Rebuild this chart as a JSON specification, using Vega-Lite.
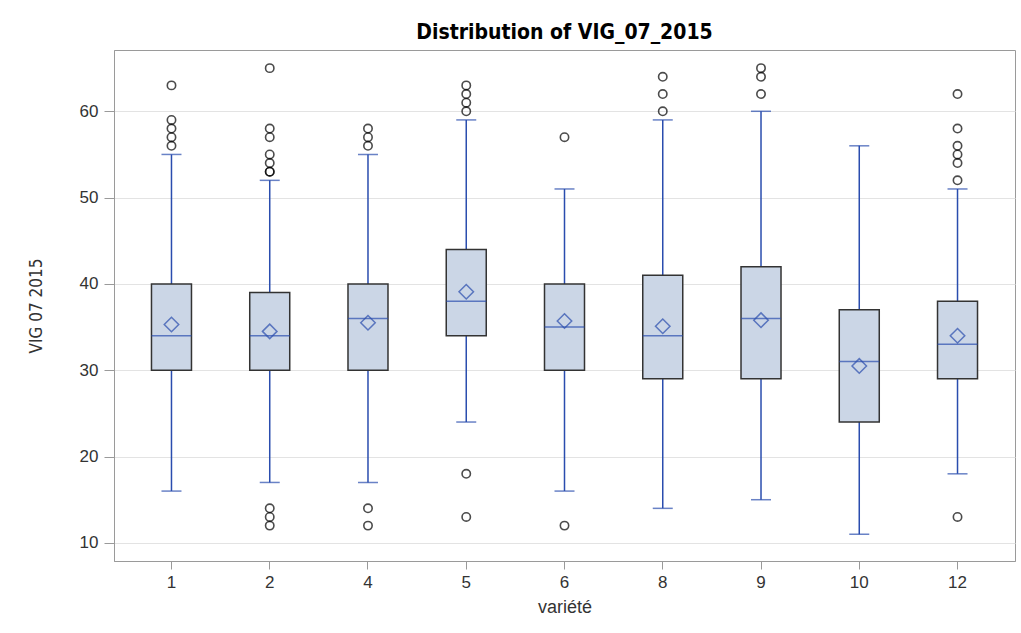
{
  "$schema": "https://vega.github.io/schema/vega-lite/v6.json",
  "width": 901,
  "height": 511,
  "autosize": {"type": "none"},
  "padding": {"left": 114, "top": 50, "right": 6, "bottom": 72},
  "background": "white",
  "title": {
    "text": "Distribution of VIG_07_2015",
    "font": "DejaVu Sans Condensed, Liberation Sans",
    "fontSize": 21,
    "fontWeight": "bold",
    "color": "#000000",
    "anchor": "middle",
    "offset": 7
  },
  "config": {
    "view": {"stroke": "#9a9a9a", "strokeWidth": 1},
    "axis": {
      "labelFont": "Liberation Sans",
      "labelFontSize": 17,
      "labelColor": "#333333",
      "titleFontWeight": "normal",
      "titleColor": "#333333",
      "domainColor": "#9a9a9a",
      "tickColor": "#9a9a9a",
      "gridColor": "#e3e3e3"
    }
  },
  "datasets": {
    "stats": [
      {"var": "1", "lo": 16, "q1": 30, "med": 34, "q3": 40, "hi": 55, "mean": 35.3},
      {"var": "2", "lo": 17, "q1": 30, "med": 34, "q3": 39, "hi": 52, "mean": 34.5},
      {"var": "4", "lo": 17, "q1": 30, "med": 36, "q3": 40, "hi": 55, "mean": 35.5},
      {"var": "5", "lo": 24, "q1": 34, "med": 38, "q3": 44, "hi": 59, "mean": 39.1},
      {"var": "6", "lo": 16, "q1": 30, "med": 35, "q3": 40, "hi": 51, "mean": 35.7},
      {"var": "8", "lo": 14, "q1": 29, "med": 34, "q3": 41, "hi": 59, "mean": 35.1},
      {"var": "9", "lo": 15, "q1": 29, "med": 36, "q3": 42, "hi": 60, "mean": 35.8},
      {"var": "10", "lo": 11, "q1": 24, "med": 31, "q3": 37, "hi": 56, "mean": 30.5},
      {"var": "12", "lo": 18, "q1": 29, "med": 33, "q3": 38, "hi": 51, "mean": 34.0}
    ],
    "outliers": [
      {"var": "1", "v": 63}, {"var": "1", "v": 59}, {"var": "1", "v": 58}, {"var": "1", "v": 57}, {"var": "1", "v": 56},
      {"var": "2", "v": 65}, {"var": "2", "v": 58}, {"var": "2", "v": 57}, {"var": "2", "v": 55}, {"var": "2", "v": 54}, {"var": "2", "v": 53}, {"var": "2", "v": 53},
      {"var": "2", "v": 14}, {"var": "2", "v": 13}, {"var": "2", "v": 12},
      {"var": "4", "v": 58}, {"var": "4", "v": 57}, {"var": "4", "v": 56}, {"var": "4", "v": 14}, {"var": "4", "v": 12},
      {"var": "5", "v": 63}, {"var": "5", "v": 62}, {"var": "5", "v": 61}, {"var": "5", "v": 60}, {"var": "5", "v": 18}, {"var": "5", "v": 13},
      {"var": "6", "v": 57}, {"var": "6", "v": 12},
      {"var": "8", "v": 64}, {"var": "8", "v": 62}, {"var": "8", "v": 60},
      {"var": "9", "v": 65}, {"var": "9", "v": 64}, {"var": "9", "v": 62},
      {"var": "12", "v": 62}, {"var": "12", "v": 58}, {"var": "12", "v": 56}, {"var": "12", "v": 55}, {"var": "12", "v": 54}, {"var": "12", "v": 52}, {"var": "12", "v": 13}
    ]
  },
  "encoding": {
    "x": {
      "field": "var",
      "type": "nominal",
      "sort": ["1", "2", "4", "5", "6", "8", "9", "10", "12"],
      "scale": {"type": "band", "paddingInner": 0, "paddingOuter": 0.085},
      "axis": {"title": "variété", "titleFont": "Liberation Sans", "titleFontSize": 18, "labelAngle": 0, "tickSize": 8, "labelPadding": 5, "titlePadding": 8, "grid": false}
    }
  },
  "layer": [
    {
      "data": {"name": "stats"},
      "mark": {"type": "rule", "color": "#2A4DAE", "strokeWidth": 1.5},
      "encoding": {
        "y": {
          "field": "lo", "type": "quantitative",
          "scale": {"domain": [7.9, 67.1], "nice": false, "zero": false},
          "axis": {"title": "VIG 07 2015", "titleFont": "DejaVu Sans Condensed, Liberation Sans", "titleFontSize": 17, "values": [10, 20, 30, 40, 50, 60], "tickSize": 10, "labelPadding": 6, "titlePadding": 34, "grid": true}
        },
        "y2": {"field": "hi"}
      }
    },
    {
      "data": {"name": "stats"},
      "mark": {"type": "bar", "size": 40, "fill": "#CBD6E6", "stroke": "#333333", "strokeWidth": 1.5},
      "encoding": {
        "y": {"field": "q1", "type": "quantitative"},
        "y2": {"field": "q3"}
      }
    },
    {
      "data": {"name": "stats"},
      "mark": {"type": "tick", "size": 40, "thickness": 1.5, "color": "#2A4DAE"},
      "encoding": {"y": {"field": "med", "type": "quantitative"}}
    },
    {
      "data": {"name": "stats"},
      "mark": {"type": "tick", "size": 20, "thickness": 1.5, "color": "#2A4DAE"},
      "encoding": {"y": {"field": "lo", "type": "quantitative"}}
    },
    {
      "data": {"name": "stats"},
      "mark": {"type": "tick", "size": 20, "thickness": 1.5, "color": "#2A4DAE"},
      "encoding": {"y": {"field": "hi", "type": "quantitative"}}
    },
    {
      "data": {"name": "stats"},
      "mark": {"type": "point", "shape": "diamond", "filled": false, "size": 210, "stroke": "#2A4DAE", "strokeWidth": 1.5},
      "encoding": {"y": {"field": "mean", "type": "quantitative"}}
    },
    {
      "data": {"name": "outliers"},
      "mark": {"type": "point", "shape": "circle", "filled": false, "size": 70, "stroke": "#000000", "strokeWidth": 1.6},
      "encoding": {"y": {"field": "v", "type": "quantitative"}}
    }
  ]
}
